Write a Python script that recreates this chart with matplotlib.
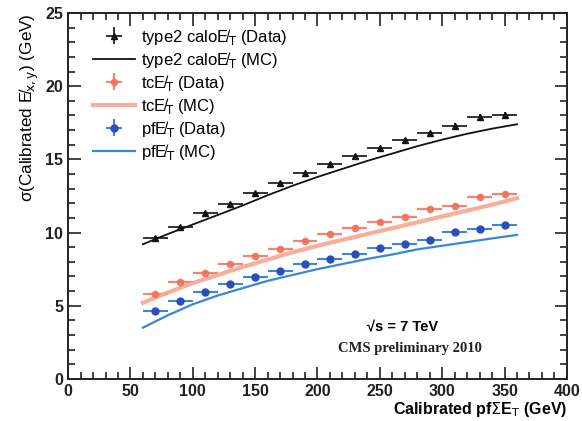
import matplotlib
matplotlib.use("Agg")
import matplotlib.pyplot as plt
from matplotlib.ticker import MultipleLocator

plt.rcParams['font.family'] = ['Liberation Sans', 'DejaVu Sans']

# data points (bin centres, 20 GeV bins)
x_data = [70, 90, 110, 130, 150, 170, 190, 210, 230, 250, 270, 290, 310, 330, 350]
calo_data = [9.65, 10.36, 11.36, 11.95, 12.68, 13.41, 14.1, 14.7, 15.25, 15.75, 16.3, 16.8, 17.3, 17.9, 18.05]
tc_data = [5.78, 6.65, 7.26, 7.86, 8.4, 8.88, 9.45, 9.9, 10.34, 10.74, 11.08, 11.59, 11.82, 12.45, 12.64]
pf_data = [4.64, 5.35, 5.94, 6.47, 6.99, 7.38, 7.83, 8.2, 8.52, 8.92, 9.22, 9.49, 10.02, 10.25, 10.52]
x_err = [10] * 15
y_err = [0.12, 0.12, 0.12, 0.12, 0.13, 0.13, 0.14, 0.14, 0.15, 0.15, 0.16, 0.17, 0.18, 0.19, 0.2]

# MC curves
x_mc = [60, 80, 100, 120, 140, 160, 180, 200, 220, 240, 260, 280, 300, 320, 340, 360]
calo_mc = [9.2, 9.9, 10.55, 11.2, 11.85, 12.55, 13.2, 13.8, 14.35, 14.9, 15.4, 15.9, 16.35, 16.75, 17.1, 17.4]
tc_mc = [5.2, 5.9, 6.55, 7.1, 7.65, 8.15, 8.65, 9.1, 9.5, 9.9, 10.3, 10.7, 11.1, 11.5, 11.9, 12.35]
pf_mc = [3.5, 4.35, 5.1, 5.7, 6.2, 6.7, 7.1, 7.5, 7.85, 8.2, 8.5, 8.85, 9.1, 9.35, 9.6, 9.84]

MET = 'E\u0338$_\\mathrm{T}$'

fig = plt.figure(figsize=(5.82, 4.21), dpi=100)
ax = fig.add_axes([0.117, 0.1, 0.857, 0.869])

black = '#111111'
red = '#f0705a'
red_line = '#f7a58f'
blue = '#2a4fb8'
blue_line = '#3a86d8'

h1 = ax.errorbar(x_data, calo_data, xerr=x_err, yerr=y_err, fmt='^', ms=4, color=black,
                 elinewidth=1.2, capsize=0, label='type2 calo' + MET + ' (Data)')
h2, = ax.plot(x_mc, calo_mc, color=black, lw=1.3, label='type2 calo' + MET + ' (MC)')
h3 = ax.errorbar(x_data, tc_data, xerr=x_err, yerr=y_err, fmt='o', ms=4.5, color=red,
                 elinewidth=1.6, capsize=0, alpha=0.85, label='tc' + MET + ' (Data)')
h4, = ax.plot(x_mc, tc_mc, color=red_line, lw=3, alpha=0.9, label='tc' + MET + ' (MC)')
h5 = ax.errorbar(x_data, pf_data, xerr=x_err, yerr=y_err, fmt='o', ms=5, color=blue,
                 ecolor=blue_line, elinewidth=1.5, capsize=0, label='pf' + MET + ' (Data)')
h6, = ax.plot(x_mc, pf_mc, color=blue_line, lw=1.6, label='pf' + MET + ' (MC)')

ax.set_xlim(0, 400)
ax.set_ylim(0, 25)
ax.xaxis.set_major_locator(MultipleLocator(50))
ax.xaxis.set_minor_locator(MultipleLocator(10))
ax.yaxis.set_major_locator(MultipleLocator(5))
ax.yaxis.set_minor_locator(MultipleLocator(1))
ax.tick_params(which='both', direction='in', top=True, right=True, width=1.2,
               labelsize=11.5, colors='#222222')
ax.tick_params(which='major', length=9)
ax.tick_params(which='minor', length=5)
for lab in ax.get_xticklabels() + ax.get_yticklabels():
    lab.set_fontweight('bold')
for s in ax.spines.values():
    s.set_linewidth(1.4)
    s.set_color('#222222')

ax.set_xlabel('Calibrated pf$\\Sigma$E$_\\mathrm{T}$ (GeV)', fontsize=11.5, fontweight='bold',
              loc='right', labelpad=1)
ax.set_ylabel('\u03c3(Calibrated E\u0338$_\\mathrm{x,y}$) (GeV)', fontsize=12.3,
              loc='top', labelpad=3)

handles = [h1, h2, h3, h4, h5, h6]
ax.legend(handles, [h.get_label() for h in handles], loc='upper left',
          bbox_to_anchor=(0.05, 0.963), borderaxespad=0, borderpad=0, frameon=False,
          fontsize=12, handlelength=2.5, handletextpad=0.35, labelspacing=0.18)

ax.text(268, 3.6, '\u221as = 7 TeV', fontsize=10.5, fontweight='bold', ha='center', va='center')
ax.text(274, 2.05, 'CMS preliminary 2010', fontsize=10.5, fontweight='bold', ha='center',
        va='center', family='Liberation Serif', color='#222222')

fig.savefig('out.png', dpi=100)
